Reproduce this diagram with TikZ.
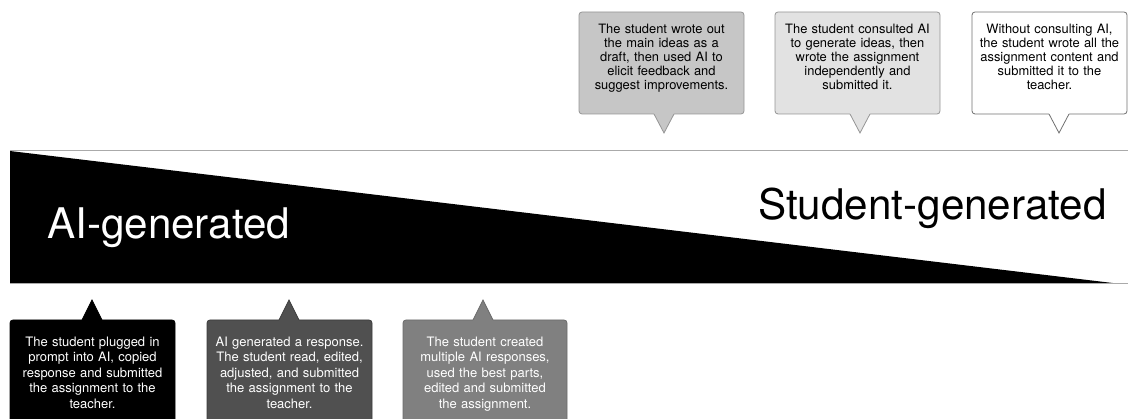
\documentclass[tikz,border=0pt]{standalone}
\usepackage{fontspec}
\setmainfont{TeX Gyre Heros}
\definecolor{fA}{HTML}{C6C6C6}
\definecolor{fB}{HTML}{E2E2E2}
\definecolor{dA}{HTML}{959595}
\definecolor{dC}{HTML}{707070}
\definecolor{gB}{HTML}{505050}
\definecolor{gBd}{HTML}{3C3C3C}
\definecolor{gC}{HTML}{808080}
\definecolor{gCd}{HTML}{6A6A6A}
\definecolor{axisgray}{HTML}{AAAAAA}
\newcommand\mypointerdown[4]{%
  \fill[#1] (#3-10,112) -- (#3+10,112) -- (#3+10,114) -- (#3,133) -- (#3-10,114) -- cycle;
  \draw[#2,line width=0.8pt] (#3-10,114) -- (#3,133) -- (#3+10,114);}
\newcommand\mypointerup[4]{%
  \fill[#1] (#3-10,322) -- (#3+10,322) -- (#3+10,320) -- (#3,300) -- (#3-10,320) -- cycle;
  \draw[#2,line width=0.8pt] (#3-10,320) -- (#3,300) -- (#3+10,320);}
\tikzset{
  bubbox/.style={rounded corners=3pt, line width=0.8pt, inner sep=0pt},
  bubtxt/.style={align=center, text width=162pt, inner sep=0pt, anchor=base, font=\fontsize{12.9}{14}\selectfont},
  bottxt/.style={align=center, text width=162pt, inner sep=0pt, anchor=base, text=white, font=\fontsize{13}{15.4}\selectfont},
  bigtxt/.style={inner sep=0pt, anchor=base west, font=\fontsize{42.2}{45}\selectfont},
  axisline/.style={draw=axisgray, line width=1pt}
}
\begin{document}
\begin{tikzpicture}[x=1pt,y=-1pt]
\useasboundingbox (0,0) rectangle (1128,419);
\clip (0,0) rectangle (1128,419);
% axis
\fill[black] (10,151) -- (10,284) -- (1121,284) -- cycle;
\draw[axisline] (10,151) -- (1128,151);
\draw[axisline] (10,284) -- (1128,284);
\node[bigtxt, text=white] (aigen) at (47,239) {AI-generated};
\node[bigtxt, text=black] (stgen) at (758,220) {Student-generated};
% top bubbles
\node[bubbox, draw=dA, fill=fA, minimum width=165pt, minimum height=102pt] (b1) at (661.5,63) {};
\mypointerdown{fA}{dA}{664}{}
\node[bubtxt] (t1) at (661.5,34) {The student wrote out\\the main ideas as a\\draft, then used AI to\\elicit feedback and\\suggest improvements.};
\node[bubbox, draw=dA, fill=fB, minimum width=165pt, minimum height=102pt] (b2) at (857.5,63) {};
\mypointerdown{fB}{dA}{860}{}
\node[bubtxt] (t2) at (857.5,34) {The student consulted AI\\to generate ideas, then\\wrote the assignment\\independently and\\submitted it.};
\node[bubbox, draw=dC, fill=white, minimum width=155pt, minimum height=102pt] (b3) at (1049.5,63) {};
\mypointerdown{white}{dC}{1059}{}
\node[bubtxt] (t3) at (1049.5,34) {Without consulting AI,\\the student wrote all the\\assignment content and\\submitted it to the\\teacher.};
% bottom bubbles
\node[bubbox, draw=black, fill=black, minimum width=165pt, minimum height=120pt] (b4) at (92.5,380) {};
\mypointerup{black}{black}{92}{}
\node[bottxt] (t4) at (92.5,346.5) {The student plugged in\\prompt into AI, copied\\response and submitted\\the assignment to the\\teacher.};
\node[bubbox, draw=gBd, fill=gB, minimum width=165pt, minimum height=120pt] (b5) at (289.5,380) {};
\mypointerup{gB}{gBd}{289}{}
\node[bottxt] (t5) at (289.5,346.5) {AI generated a response.\\The student read, edited,\\adjusted, and submitted\\the assignment to the\\teacher.};
\node[bubbox, draw=gCd, fill=gC, minimum width=164pt, minimum height=120pt] (b6) at (485,380) {};
\mypointerup{gC}{gCd}{483}{}
\node[bottxt] (t6) at (485,346.5) {The student created\\multiple AI responses,\\used the best parts,\\edited and submitted\\the assignment.};
\end{tikzpicture}
\end{document}
